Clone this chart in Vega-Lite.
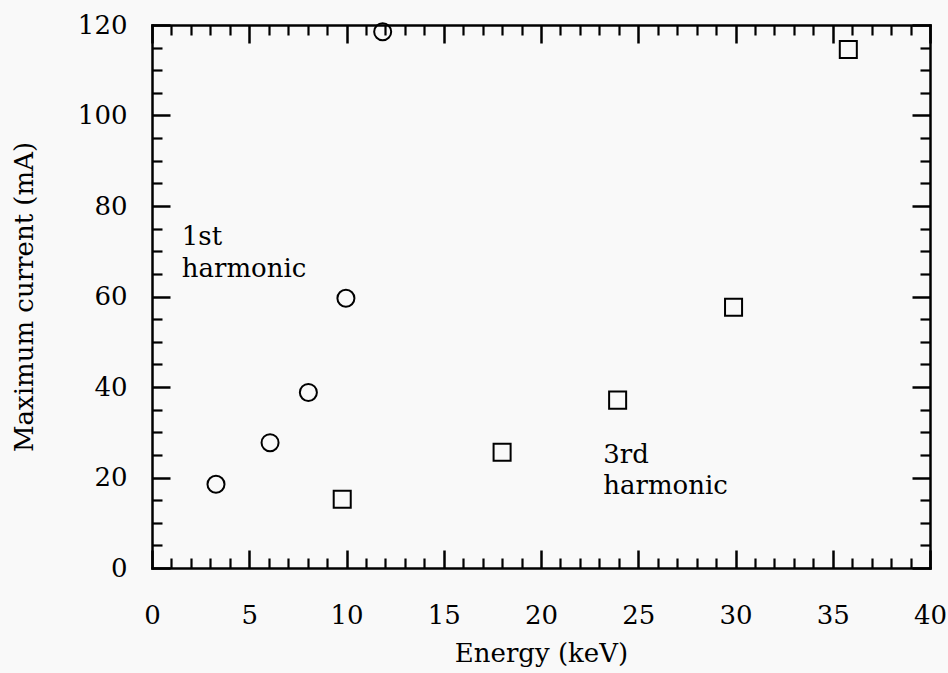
{
  "$schema": "https://vega.github.io/schema/vega-lite/v6.json",
  "width": 778,
  "height": 543,
  "autosize": {"type": "none"},
  "padding": {"left": 152, "top": 25, "right": 18, "bottom": 105},
  "background": "#f9f9f9",
  "config": {
    "view": {"stroke": null},
    "font": "DejaVu Serif",
    "axis": {
      "grid": false,
      "domainColor": "black",
      "domainWidth": 2.5,
      "domainCap": "square",
      "tickColor": "black",
      "labelColor": "black",
      "titleColor": "black",
      "labelFont": "DejaVu Serif",
      "titleFont": "DejaVu Serif",
      "labelFontSize": 26,
      "titleFontSize": 26,
      "titleFontWeight": "normal"
    }
  },
  "datasets": {
    "points": [
      {"energy": 3.29, "current": 18.5, "harmonic": "1st"},
      {"energy": 6.07, "current": 27.7, "harmonic": "1st"},
      {"energy": 8.04, "current": 38.8, "harmonic": "1st"},
      {"energy": 9.97, "current": 59.6, "harmonic": "1st"},
      {"energy": 11.86, "current": 118.5, "harmonic": "1st"},
      {"energy": 9.78, "current": 15.2, "harmonic": "3rd"},
      {"energy": 18.0, "current": 25.6, "harmonic": "3rd"},
      {"energy": 23.94, "current": 37.1, "harmonic": "3rd"},
      {"energy": 29.9, "current": 57.6, "harmonic": "3rd"},
      {"energy": 35.8, "current": 114.6, "harmonic": "3rd"}
    ],
    "labels": [
      {"energy": 1.53, "current": 71.4, "label": "1st\nharmonic", "harmonic": "1st"},
      {"energy": 23.2, "current": 23.3, "label": "3rd\nharmonic", "harmonic": "3rd"}
    ]
  },
  "layer": [
    {
      "data": {"name": "points"},
      "transform": [{"filter": "datum.harmonic === '1st'"}],
      "mark": {"type": "point", "shape": "circle", "filled": false, "stroke": "black", "strokeWidth": 2, "size": 290, "opacity": 1},
      "encoding": {
        "x": {
          "field": "energy", "type": "quantitative",
          "scale": {"domain": [0, 40], "nice": false, "zero": false},
          "axis": {
            "orient": "bottom", "values": [0, 5, 10, 15, 20, 25, 30, 35, 40],
            "tickSize": -18, "tickWidth": 2.5, "labelPadding": 52,
            "title": "Energy (keV)", "titlePadding": 12, "labelFlush": false
          }
        },
        "y": {
          "field": "current", "type": "quantitative",
          "scale": {"domain": [0, 120], "nice": false, "zero": false},
          "axis": {
            "orient": "left", "values": [0, 20, 40, 60, 80, 100, 120],
            "tickSize": -18, "tickWidth": 2.5, "labelPadding": 43,
            "title": "Maximum current (mA)", "titlePadding": 40, "labelFlush": false
          }
        }
      }
    },
    {
      "data": {"name": "points"},
      "transform": [{"filter": "datum.harmonic === '3rd'"}],
      "mark": {"type": "point", "shape": "square", "filled": false, "stroke": "black", "strokeWidth": 2, "size": 290, "opacity": 1},
      "encoding": {
        "x": {
          "field": "energy", "type": "quantitative",
          "axis": {
            "orient": "top", "values": [0, 5, 10, 15, 20, 25, 30, 35, 40],
            "tickSize": -18, "tickWidth": 2.5, "labels": false, "title": null
          }
        },
        "y": {
          "field": "current", "type": "quantitative",
          "axis": {
            "orient": "right", "values": [0, 20, 40, 60, 80, 100, 120],
            "tickSize": -18, "tickWidth": 2.5, "labels": false, "title": null
          }
        }
      }
    },
    {
      "data": {"name": "labels"},
      "transform": [{"filter": "datum.harmonic === '1st'"}],
      "mark": {"type": "text", "align": "left", "baseline": "alphabetic", "lineBreak": "\n", "lineHeight": 32, "fontSize": 26, "font": "DejaVu Serif", "color": "black"},
      "encoding": {
        "x": {
          "field": "energy", "type": "quantitative",
          "axis": {
            "orient": "bottom",
            "values": [1,2,3,4,6,7,8,9,11,12,13,14,16,17,18,19,21,22,23,24,26,27,28,29,31,32,33,34,36,37,38,39],
            "tickSize": -10, "tickWidth": 2.2, "labels": false, "domain": false, "title": null
          }
        },
        "y": {
          "field": "current", "type": "quantitative",
          "axis": {
            "orient": "left",
            "values": [5,10,15,25,30,35,45,50,55,65,70,75,85,90,95,105,110,115],
            "tickSize": -10, "tickWidth": 2.2, "labels": false, "domain": false, "title": null
          }
        },
        "text": {"field": "label"}
      }
    },
    {
      "data": {"name": "labels"},
      "transform": [{"filter": "datum.harmonic === '3rd'"}],
      "mark": {"type": "text", "align": "left", "baseline": "alphabetic", "lineBreak": "\n", "lineHeight": 31, "fontSize": 26, "font": "DejaVu Serif", "color": "black"},
      "encoding": {
        "x": {
          "field": "energy", "type": "quantitative",
          "axis": {
            "orient": "top",
            "values": [1,2,3,4,6,7,8,9,11,12,13,14,16,17,18,19,21,22,23,24,26,27,28,29,31,32,33,34,36,37,38,39],
            "tickSize": -10, "tickWidth": 2.2, "labels": false, "domain": false, "title": null
          }
        },
        "y": {
          "field": "current", "type": "quantitative",
          "axis": {
            "orient": "right",
            "values": [5,10,15,25,30,35,45,50,55,65,70,75,85,90,95,105,110,115],
            "tickSize": -10, "tickWidth": 2.2, "labels": false, "domain": false, "title": null
          }
        },
        "text": {"field": "label"}
      }
    }
  ],
  "resolve": {"axis": {"x": "independent", "y": "independent"}}
}
